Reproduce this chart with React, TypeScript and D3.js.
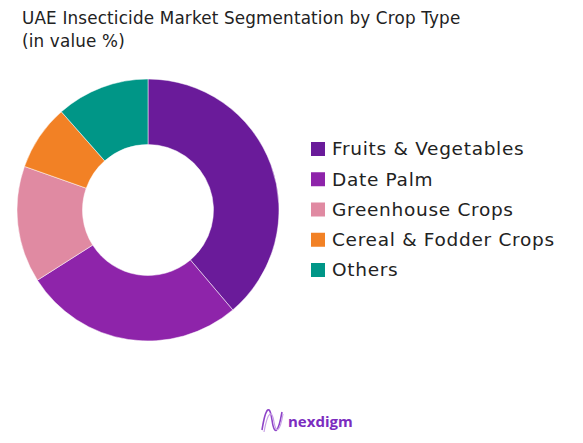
import React from "react";
import * as d3 from "d3";

const categories = ["Fruits & Vegetables", "Date Palm", "Greenhouse Crops", "Cereal & Fodder Crops", "Others"];
const values = [38.8, 27.2, 14.4, 8.1, 11.5];
const colors = ["#6A1B9A", "#8E24AA", "#E08AA2", "#F28125", "#009687"];
const titleLines = ["UAE Insecticide Market Segmentation by Crop Type", "(in value %)"];

export default function App() {
  const W = 583, H = 443;
  const cx = 148, cy = 210, R = 131, r = 65.5;
  const pie = d3.pie<number>().sort(null).value((d) => d)(values);
  const arc = d3.arc<d3.PieArcDatum<number>>().innerRadius(r).outerRadius(R);
  const legendY = d3.scalePoint<string>().domain(categories).range([149, 270]);
  const font = "'DejaVu Sans', sans-serif";
  return (
    <svg width={W} height={H} style={{ position: "absolute", left: 0, top: 0, background: "#fff" }}>
      {titleLines.map((t, i) => (
        <text key={i} x={22} y={24 + i * 23} fontSize={16.8} letterSpacing={0.17} fontFamily={font} fill="#222">{t}</text>
      ))}
      <g transform={`translate(${cx},${cy})`}>
        {pie.map((p, i) => (
          <path key={i} d={arc(p) || ""} fill={colors[i]} stroke="#fff" strokeWidth={0.5} />
        ))}
      </g>
      {categories.map((c, i) => (
        <g key={c} transform={`translate(311,${legendY(c)})`}>
          <rect x={0} y={-7} width={14} height={14} fill={colors[i]} />
          <text x={21} y={0} dy="0.35em" fontSize={18.5} letterSpacing={0.7} fontFamily={font} fill="#222">{c}</text>
        </g>
      ))}
      <g>
        <path d="M262,430 C266,405 270,405 272,420 C274,435 278,435 282,412" fill="none" stroke="#8E44C8" strokeWidth={1.6} />
        <path d="M264,432 C268,410 272,410 274,422 C276,434 280,432 283,414" fill="none" stroke="#C9A2E6" strokeWidth={1.2} />
        <text x={288} y={427} fontSize={15} fontWeight={700} fontFamily="'Open Sans', sans-serif" fill="#7B2CBF">nexdigm</text>
      </g>
    </svg>
  );
}
